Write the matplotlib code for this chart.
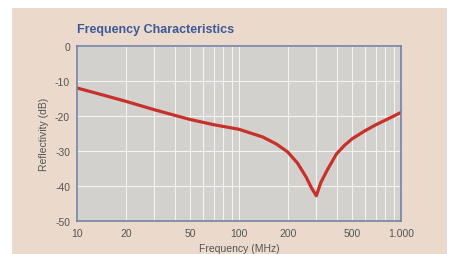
import matplotlib
matplotlib.use("Agg")
import matplotlib.pyplot as plt
from matplotlib.patches import Rectangle
from matplotlib.ticker import FixedLocator, NullFormatter

# values
freq_mhz = [10, 15, 20, 30, 40, 50, 70, 100, 140, 170, 200, 230, 260, 280, 300,
            320, 350, 400, 450, 500, 600, 700, 850, 1000]
refl_db = [-12.0, -14.2, -15.8, -18.2, -19.8, -21.0, -22.5, -23.8, -26.0, -28.0,
           -30.3, -33.5, -37.5, -40.5, -42.8, -39.0, -35.5, -30.8, -28.3, -26.5,
           -24.2, -22.5, -20.6, -19.0]

x_ticks = [10, 20, 50, 100, 200, 500, 1000]
x_labels = ["10", "20", "50", "100", "200", "500", "1.000"]
y_ticks = [0, -10, -20, -30, -40, -50]

plt.rcParams["font.family"] = ["Liberation Sans", "DejaVu Sans"]
plt.rcParams["axes.unicode_minus"] = False

W, H = 452, 255
fig = plt.figure(figsize=(W / 100, H / 100), dpi=100, facecolor="white")
fig.patches.append(Rectangle((12 / W, 0), (447 - 12) / W, 1 - 9 / H,
                             transform=fig.transFigure, facecolor="#ebdacb",
                             edgecolor="none", zorder=-10))

ax = fig.add_axes([77 / W, 1 - 222 / H, (401 - 77) / W, (222 - 47) / H])
ax.set_facecolor("#d3d1cd")
ax.set_xscale("log")
ax.set_xlim(10, 1000)
ax.set_ylim(-50, 0)

ax.xaxis.set_major_locator(FixedLocator(x_ticks))
ax.set_xticklabels(x_labels)
ax.xaxis.set_minor_locator(FixedLocator(
    [v * d for d in (10, 100) for v in range(2, 10)]))
ax.xaxis.set_minor_formatter(NullFormatter())
ax.set_yticks(y_ticks)

ax.grid(True, which="both", color="#f4f4f2", linewidth=0.8)
ax.tick_params(which="both", length=0, colors="#555555", labelsize=7.5)
ax.tick_params(axis="x", pad=5)
ax.tick_params(axis="y", pad=5)
for s in ax.spines.values():
    s.set_color("#7383a3")
    s.set_linewidth(1.2)

ax.plot(freq_mhz, refl_db, color="#c8302a", linewidth=2.3, solid_joinstyle="round")

ax.set_xlabel("Frequency (MHz)", color="#555555", fontsize=7.5, labelpad=4)
ax.set_ylabel("Reflectivity (dB)", color="#555555", fontsize=7.5, labelpad=4)

fig.text(77 / W, 1 - 30 / H, "Frequency Characteristics", color="#3d5a98",
         fontsize=9, fontweight="bold", va="center", ha="left")

fig.savefig("out.png", dpi=100, facecolor=fig.get_facecolor())
